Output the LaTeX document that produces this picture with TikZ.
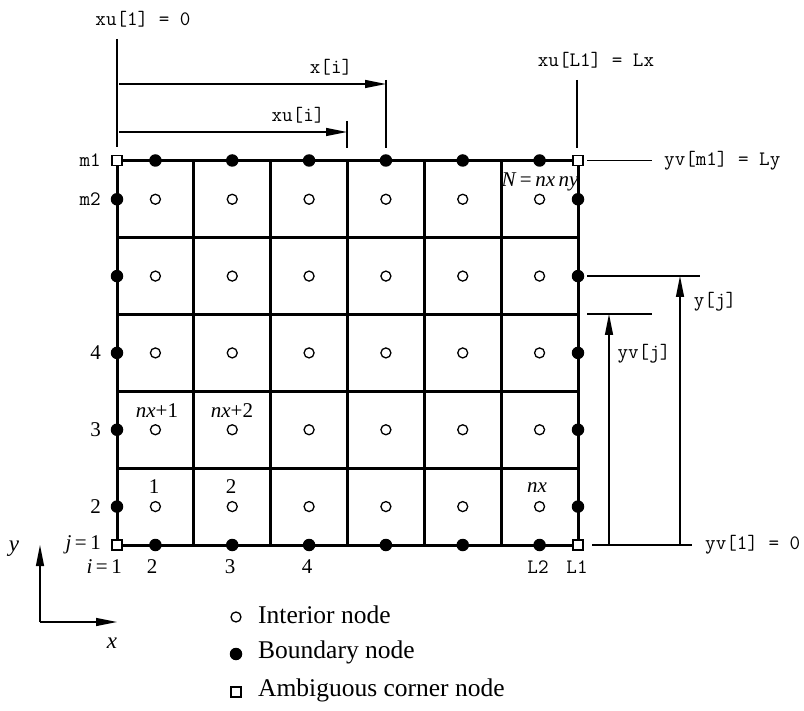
\documentclass[tikz,border=0pt]{standalone}
\usepackage{fontspec}
\setmainfont{Liberation Serif}
\usepackage{tikz}
\usetikzlibrary{arrows.meta,positioning,calc}
\tikzset{
  gridline/.style={line width=3pt, line cap=rect},
  dimline/.style={line width=1.4pt},
  dimarr/.style={-{Triangle[length=21pt, width=8pt]}, line width=1.4pt},
  inner/.style={circle, draw, line width=1.3pt, fill=white, minimum size=10pt, inner sep=0pt},
  bnd/.style={circle, fill=black, minimum size=12.5pt, inner sep=0pt},
  corner/.style={rectangle, draw, line width=1.3pt, fill=white, minimum size=10pt, inner sep=0pt},
  code/.style={font=\ttfamily\fontsize{20.5}{22}\selectfont, inner sep=0pt},
  num/.style={font=\fontsize{21}{23}\selectfont, inner sep=0pt},
  legend/.style={font=\fontsize{25.5}{28}\selectfont, inner sep=0pt, anchor=west},
}
\newcommand{\cw}{76.83}
\begin{document}
\begin{tikzpicture}[x=1pt, y=-1pt]
    \useasboundingbox (0,0) rectangle (804,711);
    % grid
    \draw[gridline] (117,160.5) rectangle (578,545);
    \foreach \k in {1,...,5} {
      \draw[gridline] ({117+\k*\cw},160.5) -- ({117+\k*\cw},545);
    }
    \foreach \k in {1,...,4} {
      \draw[gridline] (117,{545-\k*\cw}) -- (578,{545-\k*\cw});
    }
    % nodes of the grid
    \foreach \i in {1,...,6} {
      \foreach \j in {1,...,5} {
        \node[inner] (in-\i-\j) at ({117+(\i-0.5)*\cw},{545-(\j-0.5)*\cw}) {};
      }
      \node[bnd] (bb-\i) at ({117+(\i-0.5)*\cw},545) {};
      \node[bnd] (bt-\i) at ({117+(\i-0.5)*\cw},160.5) {};
    }
    \foreach \j in {1,...,5} {
      \node[bnd] (bl-\j) at (117,{545-(\j-0.5)*\cw}) {};
      \node[bnd] (br-\j) at (578,{545-(\j-0.5)*\cw}) {};
    }
    \node[corner] (sw) at (117,545) {};
    \node[corner] (se) at (578,545) {};
    \node[corner] (nw) at (117,160.5) {};
    \node[corner] (ne) at (578,160.5) {};
    % row and column labels
    \node[code, anchor=east] (m1) at (101,160.5) {m1};
    \node[code, anchor=east] (m2) at (101,199) {m2};
    \node[num, anchor=east] (r4) at (101,353) {4};
    \node[num, anchor=east] (r3) at (101,430) {3};
    \node[num, anchor=east] (r2) at (101,507) {2};
    \node[num, anchor=east] (r1) at (101,545) {\textit{j}\,=\,1};
    \node[num, anchor=east] (c1) at (122,567) {\textit{i}\,=\,1};
    \node[num] (c2) at (152,567) {2};
    \node[num] (c3) at (230,567) {3};
    \node[num] (c4) at (307,567) {4};
    \node[code] (cl2) at (538,567) {L2};
    \node[code] (cl1) at (577,567) {L1};
    % cell numbers
    \node[num] (n1) at (154,487) {1};
    \node[num] (n2) at (231,487) {2};
    \node[num] (nx1) at (157,411) {\textit{nx}+1};
    \node[num] (nx2) at (232,411) {\textit{nx}+2};
    \node[num] (nx) at (537,488) {\textit{nx}};
    \node[num] (nN) at (540,182) {\textit{N}\,=\,\textit{nx}\,\textit{ny}};
    % dimensions along x
    \coordinate (xu1top) at (117,39);
    \coordinate (xu1bot) at (117,147);
    \node[code] (xu1) at (143,19) {xu[1] = 0};
    \draw[dimline] (xu1top) -- (xu1bot);
    \coordinate (xitop) at (386,80);
    \coordinate (xibot) at (386,148);
    \draw[dimline] (xitop) -- (xibot);
    \draw[dimarr] (119,84) -- (386,84);
    \node[code] (xi) at (331,67) {x[i]};
    \coordinate (xuitop) at (347,121);
    \coordinate (xuibot) at (347,148);
    \draw[dimline] (xuitop) -- (xuibot);
    \draw[dimarr] (119,132) -- (347,132);
    \node[code] (xui) at (298,115) {xu[i]};
    \node[code] (xuL) at (596,60) {xu[L1] = Lx};
    \draw[dimline] (577,80) -- (577,148);
    % dimensions along y
    \node[code, anchor=west] (yvm) at (664,160.5) {yv[m1] = Ly};
    \draw[dimline] (587,160.5) -- (652,160.5);
    \draw[dimline] (587,276) -- (700,276);
    \draw[dimarr] (680,545) -- (680,276);
    \node[code] (yj) at (715,302) {y[j]};
    \draw[dimline] (587,314) -- (652,314);
    \draw[dimarr] (609,545) -- (609,314);
    \node[code] (yvj) at (644,354) {yv[j]};
    \draw[dimline] (592,545) -- (692,545);
    \node[code, anchor=west] (yv1) at (705,545) {yv[1] = 0};
    % axes
    \coordinate (o) at (40,622);
    \draw[dimarr] (o) -- (40,545);
    \draw[dimarr] (o) -- (117,622);
    \node[num, font=\fontsize{23}{25}\selectfont\itshape] (ay) at (14,549) {y};
    \node[num, font=\fontsize{23}{25}\selectfont\itshape] (ax) at (112,643) {x};
    % legend
    \node[inner] (li) at (236,617) {};
    \node[bnd] (lb) at (236,654) {};
    \node[corner] (lc) at (236,692) {};
    \node[legend] at (258,615) {Interior node};
    \node[legend] at (258,652) {Boundary node};
    \node[legend] at (258,690) {Ambiguous corner node};
\end{tikzpicture}
\end{document}
